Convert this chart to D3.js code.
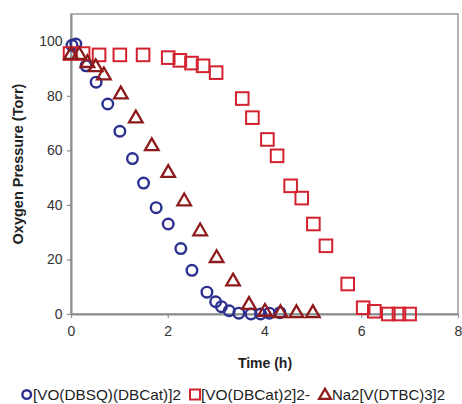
<!DOCTYPE html>
<html><head><meta charset="utf-8">
<script src="https://cdn.jsdelivr.net/npm/d3@7"></script>
<style>body{margin:0;background:#fff}svg{display:block}text{font-family:"Liberation Sans",Arial,sans-serif}</style>
</head><body>
<svg id="c" width="462" height="404"></svg>
<script>
const xTicks = [0, 2, 4, 6, 8];
const yTicks = [0, 20, 40, 60, 80, 100];
const seriesNames = ["[VO(DBSQ)(DBCat)]2", "[VO(DBCat)2]2-", "Na2[V(DTBC)3]2"];
const circT = [0.02, 0.1, 0.31, 0.52, 0.76, 1.01, 1.27, 1.5, 1.76, 2.01, 2.27, 2.5, 2.81, 2.99, 3.11, 3.27, 3.47, 3.72, 3.92, 4.1, 4.32];
const circP = [98.5, 99, 91, 85, 77, 67, 57, 48, 39, 33, 24, 16, 8, 4.5, 2.7, 1.2, 0.3, 0, 0, 0.3, 0.5];
const sqT = [-0.02, 0.25, 0.58, 1.01, 1.49, 2.01, 2.25, 2.49, 2.73, 3.0, 3.54, 3.75, 4.06, 4.26, 4.54, 4.77, 5.01, 5.27, 5.72, 6.04, 6.27, 6.56, 6.78, 7.0];
const sqP = [95.5, 95.5, 95, 95, 95, 94, 93, 92, 91, 88.5, 79, 72, 64, 58, 47, 42.5, 33, 25, 11, 2.3, 1, 0, 0, 0];
const triT = [0.0, 0.17, 0.34, 0.51, 0.68, 1.03, 1.34, 1.67, 2.01, 2.34, 2.67, 3.01, 3.35, 3.68, 4.01, 4.33, 4.66, 5.0];
const triP = [95, 95, 92, 90.5, 87.5, 80.5, 71.7, 61.5, 51.7, 41.3, 30.3, 20.5, 11.9, 3.3, 0.8, 0.3, 0.3, 0.3];

const svg = d3.select("#c");
const L = 71, T = 14, R = 458, B = 314;
const x = d3.scaleLinear().domain([0, 8]).range([L, R]);
const y = d3.scaleLinear().domain([0, 110]).range([B, T]);
const cBlue = "#2c3190", cRed = "#d2222f", cDark = "#8e1b1c";

svg.append("rect").attr("x", L).attr("y", T).attr("width", R - L).attr("height", B - T)
  .attr("fill", "none").attr("stroke", "#999").attr("stroke-width", 1.5);

const xa = svg.append("g").attr("transform", `translate(0,${B})`)
  .call(d3.axisBottom(x).tickValues(xTicks).tickSize(4).tickSizeOuter(0));
const ya = svg.append("g").attr("transform", `translate(${L},0)`)
  .call(d3.axisLeft(y).tickValues(yTicks).tickSize(4).tickSizeOuter(0));
[xa, ya].forEach(a => {
  a.select(".domain").attr("stroke", "#8a8f8f").attr("stroke-width", 2);
  a.selectAll(".tick line").attr("stroke", "#8a8f8f").attr("stroke-width", 1.2);
  a.selectAll("text").attr("fill", "#333").attr("font-size", 14).attr("font-family", "Liberation Sans, Arial, sans-serif");
});
xa.selectAll("text").attr("dy", "1.05em");
ya.selectAll("text").attr("dx", "-0.1em");

svg.append("text").attr("x", 265).attr("y", 368).attr("text-anchor", "middle")
  .attr("font-weight", "bold").attr("font-size", 14).attr("fill", "#222").text("Time (h)");
svg.append("text").attr("transform", "translate(23,164) rotate(-90)").attr("text-anchor", "middle")
  .attr("font-weight", "bold").attr("font-size", 14.5).attr("fill", "#222").text("Oxygen Pressure (Torr)");

const tri = d3.symbol().type(d3.symbolTriangle).size(80);
const g = svg.append("g");
g.selectAll("circle.s1").data(d3.zip(circT, circP)).join("circle")
  .attr("cx", d => x(d[0])).attr("cy", d => y(d[1])).attr("r", 5.3)
  .attr("fill", "none").attr("stroke", cBlue).attr("stroke-width", 2.4);
g.selectAll("rect.s2").data(d3.zip(sqT, sqP)).join("rect")
  .attr("x", d => x(d[0]) - 6.3).attr("y", d => y(d[1]) - 6.3).attr("width", 12.6).attr("height", 12.6)
  .attr("fill", "none").attr("stroke", cRed).attr("stroke-width", 2);
g.selectAll("path.s3").data(d3.zip(triT, triP)).join("path")
  .attr("transform", d => `translate(${x(d[0])},${y(d[1])})`).attr("d", tri)
  .attr("fill", "none").attr("stroke", cDark).attr("stroke-width", 2.3);

// legend
const ly = 400;
const lg = svg.append("g");
lg.append("circle").attr("cx", 26.7).attr("cy", ly - 5.5).attr("r", 4.3).attr("fill", "none").attr("stroke", cBlue).attr("stroke-width", 2.4);
lg.append("text").attr("x", 33).attr("y", ly).attr("font-size", 15).attr("fill", "#222")
  .attr("textLength", 148).attr("lengthAdjust", "spacingAndGlyphs").text(seriesNames[0]);
lg.append("rect").attr("x", 190).attr("y", ly - 10.5).attr("width", 10).attr("height", 10).attr("fill", "none").attr("stroke", cRed).attr("stroke-width", 2);
lg.append("text").attr("x", 201).attr("y", ly).attr("font-size", 15).attr("fill", "#222")
  .attr("textLength", 109).attr("lengthAdjust", "spacingAndGlyphs").text(seriesNames[1]);
lg.append("path").attr("transform", `translate(325,${ly - 4.5})`).attr("d", d3.symbol().type(d3.symbolTriangle).size(60))
  .attr("fill", "none").attr("stroke", cDark).attr("stroke-width", 2.3);
lg.append("text").attr("x", 332).attr("y", ly).attr("font-size", 15).attr("fill", "#222")
  .attr("textLength", 113).attr("lengthAdjust", "spacingAndGlyphs").text(seriesNames[2]);
</script>
</body></html>
